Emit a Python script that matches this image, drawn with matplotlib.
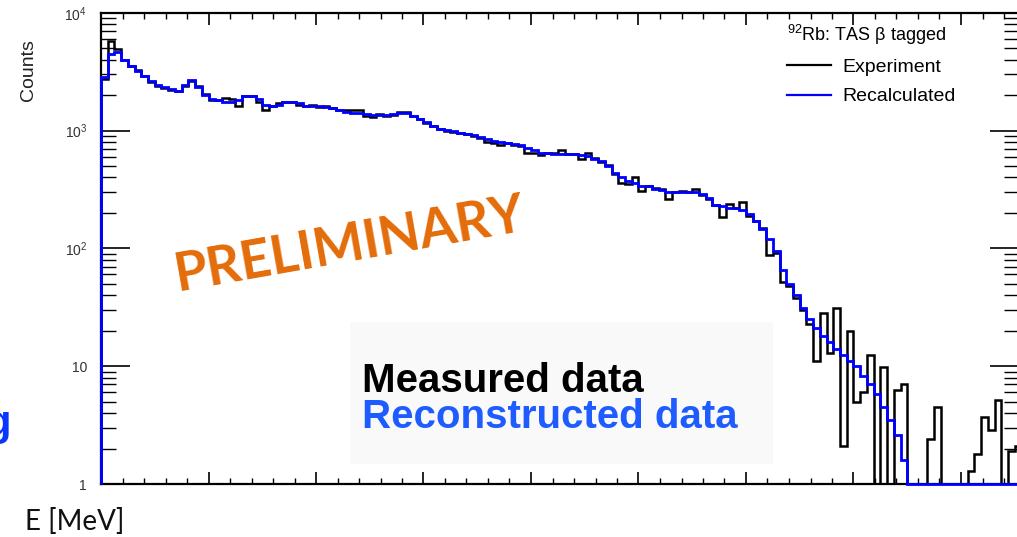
import numpy as np
import matplotlib
matplotlib.use('Agg')
import matplotlib.pyplot as plt
from matplotlib.lines import Line2D
from matplotlib.patches import Rectangle
from matplotlib.ticker import MultipleLocator, NullFormatter, LogLocator

plt.rcParams['font.family'] = ['Liberation Sans', 'DejaVu Sans']
plt.rcParams['mathtext.fontset'] = 'custom'
plt.rcParams['mathtext.rm'] = 'Liberation Sans'

# histogram binning (MeV)
bin_width = 0.0625

# measured spectrum (counts per bin)
experiment = [
    2750, 5800, 4900, 4000, 3500, 3250, 2900, 2600, 2400, 2300,
    2200, 2150, 2400, 2650, 2400, 2050, 1820, 1800, 1900, 1850,
    1600, 1950, 1980, 1750, 1500, 1600, 1700, 1740, 1750, 1650,
    1600, 1650, 1580, 1600, 1540, 1500, 1480, 1500, 1480, 1330,
    1300, 1370, 1320, 1350, 1430, 1430, 1330, 1260, 1160, 1100,
    1040, 1000, 980, 950, 930, 900, 870, 800, 780, 760,
    790, 760, 740, 640, 640, 620, 640, 640, 690, 630,
    630, 575, 650, 580, 540, 510, 430, 360, 355, 400,
    305, 335, 325, 320, 262, 300, 305, 300, 318, 285,
    260, 235, 183, 240, 220, 245, 190, 170, 150, 88,
    92, 52, 48, 38, 30, 23, 11, 28, 13, 31,
    2.1, 20, 5, 6, 12.5, 0, 9.9, 0, 6.3, 7,
    0, 0, 0, 2.4, 4.5, 0, 0, 0, 0, 1.3,
    1.8, 3.7, 2.9, 5.2, 0, 1.9, 2.1,
]

# recalculated spectrum
recalculated = [
    2850, 4480, 4650, 4000, 3550, 3200, 2900, 2650, 2450, 2330,
    2250, 2180, 2430, 2690, 2350, 2000, 1850, 1800, 1750, 1740,
    1800, 1950, 1950, 1850, 1650, 1600, 1650, 1740, 1740, 1720,
    1620, 1610, 1600, 1590, 1545, 1480, 1430, 1420, 1400, 1380,
    1360, 1360, 1360, 1370, 1400, 1400, 1330, 1250, 1180, 1100,
    1040, 1010, 990, 950, 935, 920, 880, 855, 820, 800,
    790, 770, 750, 705, 680, 650, 640, 630, 630, 630,
    630, 625, 610, 575, 550, 500, 440, 400, 370, 360,
    340, 335, 320, 315, 302, 300, 298, 298, 298, 290,
    265, 235, 228, 220, 220, 212, 195, 170, 145, 120,
    95, 65, 50, 40, 31, 25, 21, 18, 16, 14,
    12.5, 11, 10, 8.2, 7, 5.8, 4.5, 3.5, 2.6, 1.6,
    0, 0, 0, 0, 0, 0, 0, 0, 0, 0,
    0, 0, 0, 0, 0, 0, 0,
]

ytick_vals = [1, 10, 100, 1000, 10000]
ytick_text = ['1', '10', r'10$^{\mathregular{2}}$', r'10$^{\mathregular{3}}$', r'10$^{\mathregular{4}}$']

edges = np.arange(len(experiment) + 1) * bin_width
exp_plot = np.maximum(np.array(experiment, dtype=float), 1.0)
rec_plot = np.maximum(np.array(recalculated, dtype=float), 1.0)

W, H = 1017, 537
fig = plt.figure(figsize=(W / 100, H / 100), dpi=100)
ax = fig.add_axes([101 / W, 53 / H, 918 / W, 471.3 / H])

# light box behind the slide annotation
ax.add_patch(Rectangle((350 / W, 1 - 464 / H), 423 / W, 142 / H, transform=fig.transFigure,
                       facecolor='#f9f9f9', edgecolor='none', zorder=0.5, clip_on=False))

ax.stairs(exp_plot, edges, baseline=1, color='black', lw=1.8, zorder=2)
ax.stairs(rec_plot, edges, baseline=1, color='#0000ff', lw=2.0, zorder=3, clip_on=False)

ax.set_yscale('log')
ax.set_ylim(1, 1e4)
ax.set_xlim(0, 918 / 107.5)

ax.set_yticks(ytick_vals, ytick_text)
ax.yaxis.set_minor_locator(LogLocator(base=10, subs=np.arange(2, 10)))
ax.yaxis.set_minor_formatter(NullFormatter())
ax.xaxis.set_major_locator(MultipleLocator(1))
ax.xaxis.set_minor_locator(MultipleLocator(0.2))

for s in ax.spines.values():
    s.set_linewidth(1.6)
ax.tick_params(axis='x', which='major', direction='in', length=8.5, width=1.2,
               top=True, bottom=True, labelbottom=False)
ax.tick_params(axis='x', which='minor', direction='in', length=4.5, width=1.0,
               top=True, bottom=True)
ax.tick_params(axis='y', which='major', direction='in', length=21, width=1.2,
               left=True, right=True, labelsize=10, labelcolor='#333333', pad=10)
ax.tick_params(axis='y', which='minor', direction='in', length=10.5, width=1.0,
               left=True, right=True)

# legend
handles = [Line2D([], [], color='black', lw=1.6), Line2D([], [], color='#0000ff', lw=1.6)]
leg = ax.legend(handles, ['Experiment', 'Recalculated'],
                title=r'$^{\mathregular{92}}$Rb: TAS β tagged', title_fontsize=13, fontsize=14,
                loc='upper left', bbox_to_anchor=(777 / W, 1 - 13 / H), bbox_transform=fig.transFigure,
                frameon=False, handlelength=2.3, handletextpad=0.55, labelspacing=0.6,
                borderpad=0, alignment='left')

fig.text(28 / W, 1 - 70 / H, 'Counts', rotation=90, ha='center', va='center', fontsize=14, color='#222222')
fig.text(25 / W, 1 - 522 / H, 'E [MeV]', ha='left', va='center', fontsize=20,
         family=['Lato', 'DejaVu Sans'], color='#111111')

fig.text(350 / W, 1 - 245 / H, 'PRELIMINARY', rotation=10, rotation_mode='anchor',
         ha='center', va='center', fontsize=38.5, fontweight='bold',
         family=['Lato', 'DejaVu Sans'], color='#e46c0a')

fig.text(362 / W, 1 - 392 / H, 'Measured data', ha='left', va='baseline',
         fontsize=29, fontweight='bold', color='black')
fig.text(362 / W, 1 - 428 / H, 'Reconstructed data', ha='left', va='baseline',
         fontsize=29, fontweight='bold', color='#1f5cff')
fig.text(11 / W, 1 - 435 / H, 'g', ha='right', va='baseline',
         fontsize=30, fontweight='bold', color='#0a35ff')

fig.savefig('out.png', dpi=100)
